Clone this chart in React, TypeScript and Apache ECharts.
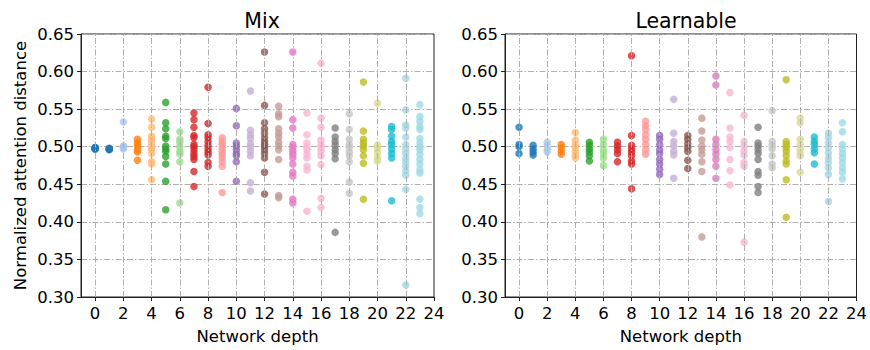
import React, { useEffect, useRef } from "react";
import * as echarts from "echarts";

const depths = Array.from({ length: 24 }, (_, i) => i);
const xTicks = [0, 2, 4, 6, 8, 10, 12, 14, 16, 18, 20, 22, 24];
const xGridValues = [0, 2, 4, 6, 8, 10, 12, 14, 16, 18, 20, 22];

const tab20 = [
  "#1f77b4", "#aec7e8", "#ff7f0e", "#ffbb78", "#2ca02c", "#98df8a", "#d62728", "#ff9896",
  "#9467bd", "#c5b0d5", "#8c564b", "#c49c94", "#e377c2", "#f7b6d2", "#7f7f7f", "#c7c7c7",
  "#bcbd22", "#dbdb8d", "#17becf", "#9edae5",
];

const mixValues: number[][] = [
  [0.499, 0.498, 0.497, 0.498, 0.499, 0.497],
  [0.497, 0.496, 0.498, 0.497, 0.497],
  [0.533, 0.501, 0.499, 0.497, 0.5],
  [0.51, 0.505, 0.501, 0.496, 0.493, 0.482],
  [0.537, 0.526, 0.514, 0.51, 0.505, 0.5, 0.496, 0.491, 0.48, 0.477, 0.456],
  [0.559, 0.532, 0.524, 0.514, 0.511, 0.501, 0.497, 0.494, 0.487, 0.477, 0.454, 0.416],
  [0.52, 0.51, 0.506, 0.5, 0.494, 0.49, 0.48, 0.425],
  [0.545, 0.536, 0.526, 0.515, 0.512, 0.503, 0.5, 0.496, 0.491, 0.487, 0.483, 0.467, 0.447],
  [0.579, 0.531, 0.516, 0.512, 0.507, 0.502, 0.497, 0.493, 0.489, 0.479, 0.474],
  [0.512, 0.507, 0.503, 0.499, 0.494, 0.49, 0.485, 0.48, 0.474, 0.439],
  [0.551, 0.528, 0.505, 0.501, 0.496, 0.491, 0.488, 0.48, 0.454],
  [0.574, 0.522, 0.516, 0.511, 0.504, 0.5, 0.494, 0.488, 0.452, 0.441],
  [0.626, 0.555, 0.532, 0.524, 0.518, 0.512, 0.507, 0.503, 0.5, 0.496, 0.491, 0.485, 0.466, 0.437],
  [0.554, 0.544, 0.54, 0.524, 0.518, 0.513, 0.506, 0.501, 0.496, 0.483, 0.435, 0.432],
  [0.626, 0.536, 0.525, 0.503, 0.499, 0.494, 0.49, 0.485, 0.477, 0.466, 0.461, 0.43, 0.425],
  [0.545, 0.516, 0.505, 0.5, 0.496, 0.49, 0.485, 0.474, 0.469, 0.414],
  [0.611, 0.538, 0.526, 0.509, 0.503, 0.499, 0.494, 0.488, 0.476, 0.431, 0.419],
  [0.525, 0.513, 0.507, 0.502, 0.496, 0.491, 0.484, 0.386],
  [0.544, 0.523, 0.51, 0.503, 0.499, 0.493, 0.488, 0.48, 0.453, 0.438],
  [0.586, 0.521, 0.51, 0.505, 0.501, 0.496, 0.488, 0.478, 0.43],
  [0.558, 0.502, 0.497, 0.492, 0.485, 0.481],
  [0.527, 0.523, 0.514, 0.507, 0.503, 0.497, 0.491, 0.485, 0.428],
  [0.591, 0.549, 0.529, 0.525, 0.513, 0.503, 0.497, 0.491, 0.485, 0.48, 0.474, 0.468, 0.462, 0.443, 0.316],
  [0.556, 0.54, 0.534, 0.527, 0.523, 0.511, 0.505, 0.5, 0.496, 0.49, 0.483, 0.477, 0.469, 0.465, 0.43, 0.419, 0.411],
];

const learnableValues: number[][] = [
  [0.526, 0.503, 0.5, 0.491],
  [0.502, 0.497, 0.493, 0.489],
  [0.506, 0.501, 0.496, 0.493],
  [0.503, 0.499, 0.494, 0.49],
  [0.519, 0.509, 0.503, 0.499, 0.494, 0.489, 0.485],
  [0.506, 0.502, 0.497, 0.493, 0.488, 0.481],
  [0.51, 0.503, 0.496, 0.491, 0.485, 0.475],
  [0.506, 0.501, 0.496, 0.491, 0.48],
  [0.621, 0.515, 0.502, 0.497, 0.493, 0.488, 0.481, 0.477, 0.444],
  [0.534, 0.528, 0.523, 0.516, 0.51, 0.503, 0.496, 0.49],
  [0.515, 0.51, 0.503, 0.496, 0.491, 0.483, 0.477, 0.47, 0.463],
  [0.563, 0.518, 0.507, 0.501, 0.494, 0.489, 0.458],
  [0.515, 0.51, 0.504, 0.499, 0.494, 0.482, 0.471],
  [0.538, 0.521, 0.509, 0.501, 0.496, 0.49, 0.48, 0.467, 0.38],
  [0.594, 0.582, 0.51, 0.503, 0.496, 0.49, 0.483, 0.474, 0.458],
  [0.572, 0.525, 0.513, 0.507, 0.499, 0.483, 0.468, 0.449],
  [0.542, 0.507, 0.501, 0.494, 0.489, 0.479, 0.474, 0.373],
  [0.526, 0.505, 0.501, 0.496, 0.491, 0.483, 0.467, 0.462, 0.447, 0.439],
  [0.548, 0.507, 0.502, 0.497, 0.488, 0.477, 0.472],
  [0.589, 0.507, 0.503, 0.499, 0.494, 0.488, 0.481, 0.477, 0.456, 0.406],
  [0.538, 0.532, 0.51, 0.503, 0.497, 0.492, 0.488, 0.466],
  [0.513, 0.507, 0.503, 0.497, 0.492, 0.477],
  [0.518, 0.512, 0.505, 0.499, 0.492, 0.485, 0.479, 0.472, 0.463, 0.427],
  [0.532, 0.52, 0.503, 0.497, 0.491, 0.485, 0.479, 0.472, 0.466, 0.457],
];

const titles = ["Mix", "Learnable"];
const FONT = "DejaVu Sans";

function colorFor(d: number) {
  const idx = Math.min(19, Math.floor((d / 23) * 20));
  return tab20[idx];
}

export default function App() {
  const ref = useRef<HTMLDivElement>(null);
  useEffect(() => {
    if (!ref.current) return;
    const chart = echarts.init(ref.current, null, { renderer: "svg" });
    const lefts = [81, 505];
    const gridStyle = { color: "#b0b0b0", width: 1, type: [6, 2, 1.5, 2] };
    const xAxes = lefts.map((_, gi) => ({
      type: "value",
      gridIndex: gi,
      min: -1,
      max: 24,
      name: "Network depth",
      nameLocation: "middle",
      nameGap: 31,
      nameTextStyle: { fontFamily: FONT, fontSize: 16.5, color: "#000" },
      axisLine: { show: true, onZero: false, lineStyle: { color: "#222", width: 1 } },
      axisTick: { show: true, customValues: xTicks, length: 4, lineStyle: { color: "#222" } },
      axisLabel: { customValues: xTicks, fontFamily: FONT, fontSize: 16.5, color: "#000", margin: 8 },
      splitLine: { show: false },
    }));
    const yAxes = lefts.map((_, gi) => ({
      type: "value",
      gridIndex: gi,
      min: 0.3,
      max: 0.65,
      interval: 0.05,
      name: gi === 0 ? "Normalized attention distance" : "",
      nameLocation: "middle",
      nameGap: 52,
      nameTextStyle: { fontFamily: FONT, fontSize: 16.5, color: "#000" },
      axisLine: { show: true, onZero: false, lineStyle: { color: "#222", width: 1 } },
      axisTick: { show: true, length: 4, lineStyle: { color: "#222" } },
      axisLabel: {
        fontFamily: FONT,
        fontSize: 16.5,
        color: "#000",
        margin: 7,
        formatter: (v: number) => v.toFixed(2),
      },
      splitLine: { show: true, lineStyle: gridStyle },
    }));
    const series: any[] = [];
    [mixValues, learnableValues].forEach((vals, gi) => {
      series.push({
        type: "scatter",
        xAxisIndex: gi,
        yAxisIndex: gi,
        z: 1,
        silent: true,
        data: [],
        markLine: {
          silent: true,
          symbol: "none",
          animation: false,
          label: { show: false },
          lineStyle: gridStyle,
          data: xGridValues.map((x) => ({ xAxis: x })),
        },
      });
      depths.forEach((d) => {
        series.push({
          type: "scatter",
          xAxisIndex: gi,
          yAxisIndex: gi,
          z: 3,
          symbolSize: 7.5,
          itemStyle: { color: colorFor(d), opacity: 0.8 },
          data: vals[d].map((v) => [d, v]),
        });
      });
    });
    chart.setOption({
      animation: false,
      title: titles.map((t, i) => ({
        text: t,
        left: lefts[i] + 176,
        top: 5,
        textAlign: "center",
        textStyle: { fontFamily: FONT, fontSize: 20.5, fontWeight: "normal", color: "#000" },
      })),
      grid: lefts.map((l) => ({
        left: l,
        top: 34,
        width: 353,
        height: 265,
        show: true,
        borderColor: "#222",
        borderWidth: 1,
        backgroundColor: "transparent",
      })),
      xAxis: xAxes,
      yAxis: yAxes,
      series,
    });
    return () => chart.dispose();
  }, []);
  return (
    <div
      ref={ref}
      style={{ position: "fixed", left: 0, top: 0, width: 870, height: 350, background: "#fff" }}
    />
  );
}
